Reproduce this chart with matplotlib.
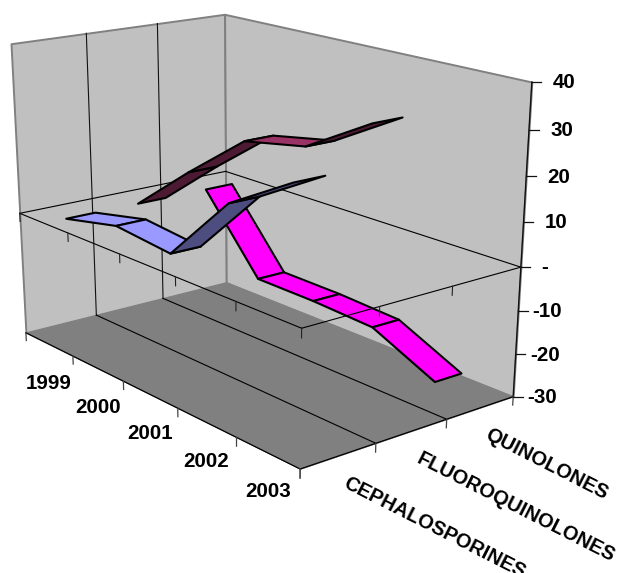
import numpy as np
import matplotlib
matplotlib.use('Agg')
import matplotlib.colors as mcolors
import matplotlib.pyplot as plt
from matplotlib.lines import Line2D
from mpl_toolkits.mplot3d.art3d import Poly3DCollection

# percent change per year, one ribbon per drug class
years = ['1999', '2000', '2001', '2002', '2003']
drug_classes = ['CEPHALOSPORINES', 'FLUOROQUINOLONES', 'QUINOLONES']
cephalosporines = [0, 3, 1.5, 17.3, 26]
fluoroquinolones = [0, 12, 23.2, 26, 34.7]
quinolones = [0, -18, -18.2, -19, -26]
value_ticks = [40, 30, 20, 10, 0, -10, -20, -30]
value_labels = ['40', '30', '20', '10', '-', '-10', '-20', '-30']

ribbon_colors = ['#9999FF', '#993366', '#FF00FF']
ribbon_half_depth = 0.2
zmin, zmax = value_ticks[-1], value_ticks[0]
nyears, nclasses = len(years), len(drug_classes)

# camera for the box: (year slot, class slot, value, 1) -> canvas pixels
CAMERA = np.array([
    [45.66173548645554, 75.1054516211109, -0.22863740964342988, 19.746938226901595],
    [11.317962726598546, -9.046741835276048, -4.279903121829216, 213.3322575329756],
    [-0.03553299052481407, 0.02883261573896334, -0.0008985625385236062, 1.0],
])
W, H = 618, 573


def project(u, v, z):
    h = CAMERA @ np.array([u, v, z, 1.0])
    return h[0] / h[2], h[1] / h[2]


def face(verts, color, edge, lw, zorder):
    poly = Poly3DCollection([verts], facecolors=color, edgecolors=edge,
                            linewidths=lw, zorder=zorder)
    ax.add_collection3d(poly)


def segment(start, end, color='black', lw=0.8, zorder=3):
    x0, y0 = project(*start)
    x1, y1 = project(*end)
    ax.add_artist(Line2D([x0, x1], [y0, y1], color=color, lw=lw, zorder=zorder))


def label(text, anchor, dx, dy, size=14.8, **kw):
    ax.annotate(text, xy=anchor, xytext=(dx * 0.72, -dy * 0.72), textcoords='offset points',
                fontsize=size, fontweight='bold', family='Liberation Sans', color='black', **kw)


fig = plt.figure(figsize=(W / 100, H / 100), dpi=100, facecolor='white')
# Axes3D forces a square panel, so make it as wide as the canvas and centre it
ax = fig.add_axes([0, -(W - H) / 2 / H, 1, W / H], projection='3d', computed_zorder=False)
ax.set_axis_off()
ax.patch.set_visible(False)

# walls and floor
face([(0, 0, zmin), (0, nclasses, zmin), (0, nclasses, zmax), (0, 0, zmax)], '#C0C0C0', '#808080', 1.4, 1)
face([(0, nclasses, zmin), (nyears, nclasses, zmin), (nyears, nclasses, zmax), (0, nclasses, zmax)],
     '#C0C0C0', '#808080', 1.4, 1)
face([(0, 0, zmin), (nyears, 0, zmin), (nyears, nclasses, zmin), (0, nclasses, zmin)], '#808080', '#808080', 0.5, 2)

# gridlines between the classes, up the wall and across the floor
for v in range(1, nclasses):
    segment((0, v, zmax), (0, v, zmin), color='#111111')
    segment((0, v, zmin), (nyears, v, zmin))

# zero plane, back edges
segment((0, 0, 0), (0, nclasses, 0))
segment((0, nclasses, 0), (nyears, nclasses, 0))

# ribbons, far class first so nearer ones cover it
series = [cephalosporines, fluoroquinolones, quinolones]
for c in range(nclasses - 1, -1, -1):
    v0, v1 = c + 0.5 - ribbon_half_depth, c + 0.5 + ribbon_half_depth
    vals = series[c]
    base = np.array(mcolors.to_rgb(ribbon_colors[c]))
    for i in range(nyears - 1):
        u0, u1 = i + 0.5, i + 1.5
        a, b, d = project(u0, v0, vals[i]), project(u0, v1, vals[i]), project(u1, v0, vals[i + 1])
        # underside of the ribbon faces the viewer when the winding flips
        cross = (b[0] - a[0]) * (d[1] - a[1]) - (b[1] - a[1]) * (d[0] - a[0])
        color = base if cross > 0 else base * 0.5
        face([(u0, v0, vals[i]), (u0, v1, vals[i]), (u1, v1, vals[i + 1]), (u1, v0, vals[i + 1])],
             tuple(color), 'black', 1.5, 5)

# zero plane, front edges and their ticks
segment((0, 0, 0), (nyears, 0, 0), zorder=6)
segment((nyears, 0, 0), (nyears, nclasses, 0), zorder=6)
for u in range(nyears + 1):
    segment((u, 0, 0), (u, 0, -2), color='#222222', zorder=6)
for v in range(1, nclasses):
    segment((nyears, v, 0), (nyears, v, -2), color='#222222', zorder=6)

# outer axes
segment((0, 0, zmin), (nyears, 0, zmin), lw=0.9, zorder=7)
segment((nyears, 0, zmin), (nyears, nclasses, zmin), lw=0.9, zorder=7)
segment((nyears, nclasses, zmin), (nyears, nclasses, zmax), color='#111111', lw=1.0, zorder=7)
for u in range(nyears + 1):
    segment((u, 0, zmin), (u, 0, zmin - 2), color='#444444', lw=0.9, zorder=7)
for v in range(nclasses + 1):
    segment((nyears, v, zmin), (nyears, v, zmin - 2), color='#444444', lw=0.9, zorder=7)

for z, text in zip(value_ticks, value_labels):
    x, y = project(nyears, nclasses, z)
    ax.add_artist(Line2D([x, x + 9.5], [y, y], color='#111111', lw=0.9, zorder=7))
    label(text, (x, y), 27 if text == '-' else 44, 0.7, ha='right', va='center')

for i, year in enumerate(years):
    label(year, project(i + 0.5, 0, zmin), 0, 39, ha='center', va='center')

for c, name in enumerate(drug_classes):
    label(name, project(nyears, c + 0.5, zmin), 6, 26, size=14.4, ha='left', va='center',
          rotation=-27, rotation_mode='anchor')

# replace the default view with the fixed camera; depth row only has to stay invertible
M = np.vstack([CAMERA[0], CAMERA[1], CAMERA[2] + [0, 0, 0, 1], CAMERA[2]])
ax.get_proj = lambda: M
ax.viewLim.intervalx = (0, W)
ax.viewLim.intervaly = (H + (W - H) / 2, -(W - H) / 2)

fig.savefig('out.png', dpi=100)
